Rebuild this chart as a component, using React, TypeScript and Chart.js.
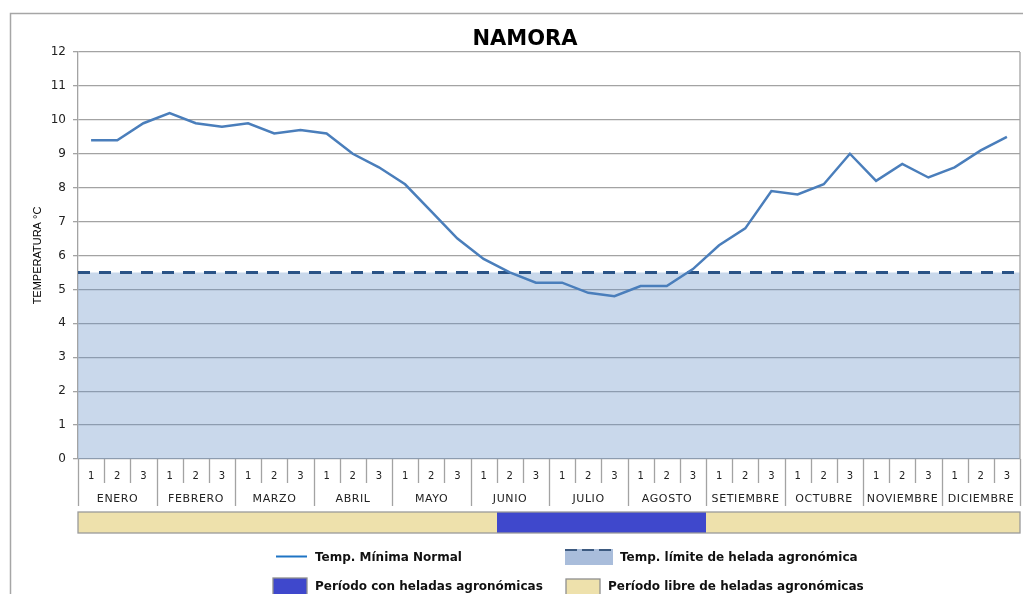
import React, { useEffect, useRef } from 'react';
import { Chart, registerables } from 'chart.js';

Chart.register(...registerables);

const TITLE = 'NAMORA';
const Y_TITLE = 'TEMPERATURA °C';
const MONTHS = ['ENERO', 'FEBRERO', 'MARZO', 'ABRIL', 'MAYO', 'JUNIO', 'JULIO', 'AGOSTO', 'SETIEMBRE', 'OCTUBRE', 'NOVIEMBRE', 'DICIEMBRE'];
const DECADES = ['1', '2', '3'];
const TEMP_MIN = [
  9.4, 9.4, 9.9, 10.2, 9.9, 9.8, 9.9, 9.6, 9.7, 9.6, 9.0, 8.6,
  8.1, 7.3, 6.5, 5.9, 5.5, 5.2, 5.2, 4.9, 4.8, 5.1, 5.1, 5.6,
  6.3, 6.8, 7.9, 7.8, 8.1, 9.0, 8.2, 8.7, 8.3, 8.6, 9.1, 9.5,
];
const FROST_LIMIT = 5.5;
// 1 = período con heladas, 0 = período libre (por década)
const FROST_FLAGS = [
  0, 0, 0, 0, 0, 0, 0, 0, 0, 0, 0, 0,
  0, 0, 0, 0, 1, 1, 1, 1, 1, 1, 1, 1,
  0, 0, 0, 0, 0, 0, 0, 0, 0, 0, 0, 0,
];
const LEGEND_LABELS = [
  'Temp. Mínima Normal',
  'Temp. límite de helada agronómica',
  'Período con heladas agronómicas',
  'Período libre de heladas agronómicas',
];

const GRID = '#a3a3a3';
const LINE_COLOR = '#4a7ebb';
const LIMIT_COLOR = '#2a5386';
const FROST_COLOR = '#3f48cc';
const FREE_COLOR = '#eee1ac';
const FONT = '"DejaVu Sans", sans-serif';

const decorPlugin = {
  id: 'decor',
  afterDraw(chart: any) {
    const { ctx, chartArea } = chart;
    const xs = chart.scales.x;
    const n = TEMP_MIN.length;
    const w = xs.getPixelForValue(1) - xs.getPixelForValue(0);
    const edge = (i: number) => xs.getPixelForValue(0) - w / 2 + i * w;
    const bottom = chartArea.bottom;
    ctx.save();

    // outer frame
    ctx.strokeStyle = '#a6a6a6';
    ctx.lineWidth = 1.5;
    ctx.beginPath();
    ctx.moveTo(10.5, 594);
    ctx.lineTo(10.5, 13.5);
    ctx.lineTo(1023, 13.5);
    ctx.stroke();

    // plot right border
    ctx.strokeStyle = GRID;
    ctx.lineWidth = 1.3;
    ctx.beginPath();
    ctx.moveTo(chartArea.right, chartArea.top);
    ctx.lineTo(chartArea.right, chartArea.bottom);
    ctx.stroke();

    // title
    ctx.fillStyle = '#000';
    ctx.font = `bold 21px ${FONT}`;
    ctx.textAlign = 'center';
    ctx.textBaseline = 'alphabetic';
    ctx.fillText(TITLE, 525, 45);

    // x axis table
    ctx.strokeStyle = GRID;
    ctx.lineWidth = 1.3;
    for (let i = 0; i <= n; i++) {
      const x = Math.round(edge(i)) + 0.5;
      const isMonth = i % 3 === 0;
      ctx.beginPath();
      ctx.moveTo(x, bottom);
      ctx.lineTo(x, isMonth ? 506 : 483);
      ctx.stroke();
    }
    ctx.fillStyle = '#222';
    ctx.font = `10px ${FONT}`;
    for (let i = 0; i < n; i++) {
      ctx.fillText(DECADES[i % 3], (edge(i) + edge(i + 1)) / 2, 478.5);
    }
    ctx.font = `11px ${FONT}`;
    (ctx as any).letterSpacing = '0.6px';
    MONTHS.forEach((m, k) => {
      ctx.fillText(m, (edge(k * 3) + edge(k * 3 + 3)) / 2 + 0.3, 501.5);
    });
    (ctx as any).letterSpacing = '0px';

    // period bar (contiguous segments)
    const by = 512;
    const bh = 21;
    let start = 0;
    for (let i = 1; i <= n; i++) {
      if (i === n || FROST_FLAGS[i] !== FROST_FLAGS[start]) {
        ctx.fillStyle = FROST_FLAGS[start] ? FROST_COLOR : FREE_COLOR;
        const x0 = Math.round(edge(start));
        const x1 = Math.round(edge(i));
        ctx.fillRect(x0, by, x1 - x0, bh);
        start = i;
      }
    }
    ctx.strokeStyle = '#9a9a9a';
    ctx.lineWidth = 1.3;
    ctx.strokeRect(edge(0), by, edge(n) - edge(0), bh);

    // legend
    ctx.textAlign = 'left';
    ctx.font = `bold 12px ${FONT}`;
    // item 1: line
    ctx.strokeStyle = '#1f74c4';
    ctx.lineWidth = 2;
    ctx.beginPath();
    ctx.moveTo(276, 556.5);
    ctx.lineTo(307, 556.5);
    ctx.stroke();
    ctx.fillStyle = '#111';
    ctx.fillText(LEGEND_LABELS[0], 315, 561);
    // item 2: limit box
    ctx.fillStyle = '#a9bddb';
    ctx.fillRect(565, 549, 48, 16);
    ctx.strokeStyle = '#3d5a80';
    ctx.lineWidth = 2;
    ctx.setLineDash([12, 5]);
    ctx.beginPath();
    ctx.moveTo(565, 550);
    ctx.lineTo(613, 550);
    ctx.stroke();
    ctx.setLineDash([]);
    ctx.fillStyle = '#111';
    ctx.fillText(LEGEND_LABELS[1], 620, 560.5);
    // item 3: frost period
    ctx.fillStyle = FROST_COLOR;
    ctx.fillRect(273, 578, 34, 18);
    ctx.strokeStyle = '#8f8f8f';
    ctx.lineWidth = 1.3;
    ctx.strokeRect(273, 578, 34, 18);
    ctx.fillStyle = '#111';
    ctx.fillText(LEGEND_LABELS[2], 315, 590);
    // item 4: free period
    ctx.fillStyle = FREE_COLOR;
    ctx.fillRect(566, 579, 34, 18);
    ctx.strokeStyle = '#8f8f8f';
    ctx.strokeRect(566, 579, 34, 18);
    ctx.fillStyle = '#111';
    ctx.fillText(LEGEND_LABELS[3], 608, 589.5);

    ctx.restore();
  },
};

export default function App() {
  const ref = useRef<HTMLCanvasElement | null>(null);
  useEffect(() => {
    if (!ref.current) return;
    const labels = MONTHS.flatMap(() => DECADES);
    const chart = new Chart(ref.current, {
      type: 'line',
      data: {
        labels,
        datasets: [
          {
            label: LEGEND_LABELS[0],
            data: TEMP_MIN,
            borderColor: LINE_COLOR,
            borderWidth: 2.5,
            pointRadius: 0,
            tension: 0,
            fill: false,
          },
          {
            label: LEGEND_LABELS[1],
            data: [
              { x: 0, y: FROST_LIMIT },
              { x: TEMP_MIN.length, y: FROST_LIMIT },
            ],
            xAxisID: 'x2',
            borderColor: LIMIT_COLOR,
            borderWidth: 3,
            borderDash: [12, 9],
            pointRadius: 0,
            fill: 'origin',
            backgroundColor: 'rgba(101,144,198,0.35)',
          } as any,
        ],
      },
      options: {
        animation: false,
        responsive: false,
        devicePixelRatio: 1,
        layout: { padding: { left: 10, right: 4, top: 52, bottom: 135 } },
        plugins: {
          legend: { display: false },
          tooltip: { enabled: false },
          title: { display: false },
        },
        scales: {
          x: {
            type: 'category',
            offset: true,
            display: false,
          },
          x2: {
            type: 'linear',
            min: 0,
            max: TEMP_MIN.length,
            display: false,
          },
          y: {
            min: 0,
            max: 12,
            ticks: {
              stepSize: 1,
              color: '#222',
              padding: 7,
              font: { family: FONT, size: 12 },
            },
            grid: { color: GRID, lineWidth: 1.3, tickLength: 5 },
            border: { color: GRID, width: 1.3 },
            title: {
              display: true,
              text: Y_TITLE,
              color: '#000',
              font: { family: '"Liberation Sans", Arial, sans-serif', size: 11 },
              padding: { top: 21, bottom: 0 },
            },
            afterFit(scale: any) {
              scale.width = 68;
            },
          },
        },
      },
      plugins: [decorPlugin],
    } as any);
    return () => chart.destroy();
  }, []);
  return (
    <div style={{ position: 'fixed', left: 0, top: 0, width: 1024, height: 594, background: '#fff' }}>
      <canvas ref={ref} width={1024} height={594} style={{ display: 'block' }} />
    </div>
  );
}
